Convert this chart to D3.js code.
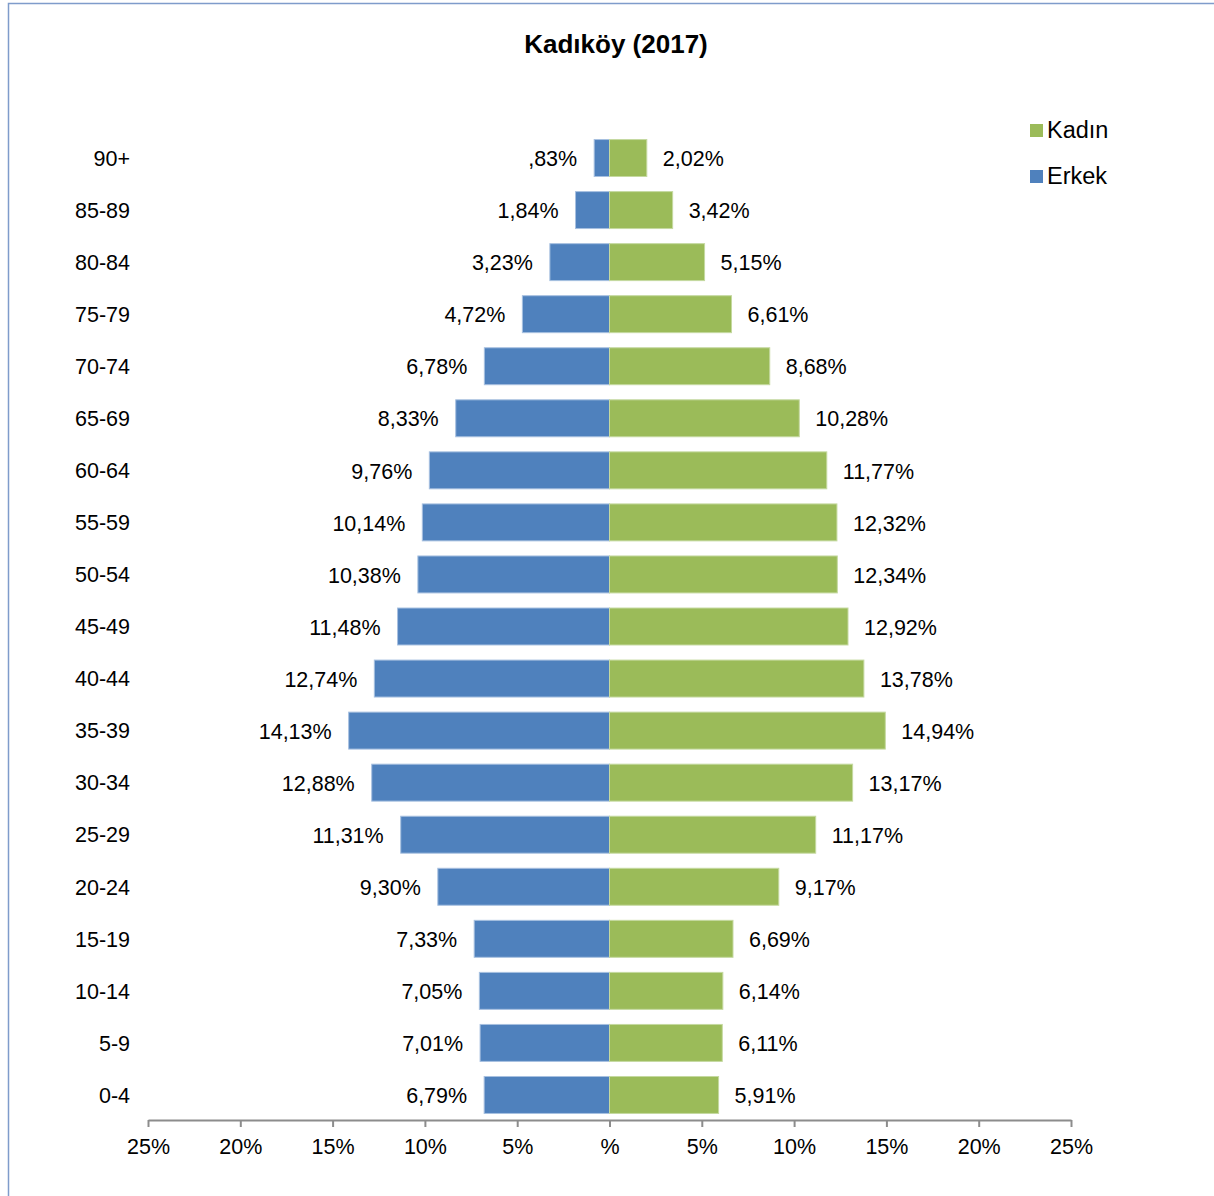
<!DOCTYPE html>
<html lang="tr">
<head>
    <meta charset="UTF-8">
    <title>Kadıköy (2017)</title>
    <style>
        body {
            margin: 0;
            background: #fff;
        }

        text {
            font-family: "Liberation Sans", Arial, sans-serif;
            fill: #000;
        }

        .axis path, .axis line {
            stroke: #8c8c8c;
            stroke-width: 2px;
        }
    </style>
</head>
<body>
<svg width="1214" height="1196"></svg>
<script src="https://cdn.jsdelivr.net/npm/d3@7"></script>
<script>
    // age groups, top to bottom
    let ages = ["90+", "85-89", "80-84", "75-79", "70-74", "65-69", "60-64", "55-59", "50-54",
        "45-49", "40-44", "35-39", "30-34", "25-29", "20-24", "15-19", "10-14", "5-9", "0-4"];
    let erkek = [0.83, 1.84, 3.23, 4.72, 6.78, 8.33, 9.76, 10.14, 10.38,
        11.48, 12.74, 14.13, 12.88, 11.31, 9.30, 7.33, 7.05, 7.01, 6.79];
    let kadin = [2.02, 3.42, 5.15, 6.61, 8.68, 10.28, 11.77, 12.32, 12.34,
        12.92, 13.78, 14.94, 13.17, 11.17, 9.17, 6.69, 6.14, 6.11, 5.91];
    let xTicks = [-25, -20, -15, -10, -5, 0, 5, 10, 15, 20, 25];
    let legendItems = [["Kadın", "#9bbb59"], ["Erkek", "#4f81bd"]];

    let svg = d3.select("svg");

    // chart border
    svg.append("rect")
        .attr("x", 8.5).attr("y", 3.5)
        .attr("width", 1214).attr("height", 1200)
        .attr("fill", "none")
        .attr("stroke", "#7f9ccb")
        .attr("stroke-width", 1.5);

    svg.append("text")
        .attr("x", 616).attr("y", 53)
        .attr("text-anchor", "middle")
        .style("font-size", "26px")
        .style("font-weight", "bold")
        .text("Kadıköy (2017)");

    let x = d3.scaleLinear().domain([-25, 25]).range([148, 1071]);
    let y = d3.scaleBand().domain(ages).range([132, 1121]).paddingInner(0.29).paddingOuter(0.145);

    let tr = d3.formatLocale({decimal: ",", thousands: ".", grouping: [3], currency: ["", "₺"]});
    let fmt = function (v) {
        let s = tr.format(".2f")(v);
        if (s.startsWith("0,")) s = s.substring(1);
        return s + "%";
    };

    let rows = ages.map(function (a, i) {
        return {age: a, m: erkek[i], f: kadin[i]};
    });

    // bars
    svg.selectAll(".bar-m")
        .data(rows)
        .enter().append("rect")
        .attr("class", "bar-m")
        .attr("x", d => x(-d.m))
        .attr("y", d => y(d.age))
        .attr("width", d => x(0) - x(-d.m))
        .attr("height", y.bandwidth())
        .attr("fill", "#4f81bd")
        .attr("stroke", "#a7c0e0")
        .attr("stroke-width", 1);

    svg.selectAll(".bar-f")
        .data(rows)
        .enter().append("rect")
        .attr("class", "bar-f")
        .attr("x", x(0))
        .attr("y", d => y(d.age))
        .attr("width", d => x(d.f) - x(0))
        .attr("height", y.bandwidth())
        .attr("fill", "#9bbb59")
        .attr("stroke", "#c5d9a0")
        .attr("stroke-width", 1);

    // value labels
    svg.selectAll(".lab-m")
        .data(rows)
        .enter().append("text")
        .attr("x", d => x(-d.m) - 17)
        .attr("y", d => y(d.age) + y.bandwidth() / 2)
        .attr("dy", "0.38em")
        .attr("text-anchor", "end")
        .style("font-size", "21.5px")
        .text(d => fmt(d.m));

    svg.selectAll(".lab-f")
        .data(rows)
        .enter().append("text")
        .attr("x", d => x(d.f) + 16)
        .attr("y", d => y(d.age) + y.bandwidth() / 2)
        .attr("dy", "0.38em")
        .attr("text-anchor", "start")
        .style("font-size", "21.5px")
        .text(d => fmt(d.f));

    // age labels
    svg.selectAll(".age")
        .data(ages)
        .enter().append("text")
        .attr("x", 130)
        .attr("y", d => y(d) + y.bandwidth() / 2)
        .attr("dy", "0.36em")
        .attr("text-anchor", "end")
        .style("font-size", "21.5px")
        .text(d => d);

    // x axis
    let xAxis = svg.append("g")
        .attr("class", "axis")
        .attr("transform", "translate(0,1120)")
        .call(d3.axisBottom(x)
            .tickValues(xTicks)
            .tickSizeInner(7)
            .tickSizeOuter(0)
            .tickPadding(12)
            .tickFormat(v => v === 0 ? "%" : Math.abs(v) + "%"));
    xAxis.selectAll("text")
        .style("font-size", "21.5px")
        .style("font-family", "\"Liberation Sans\", Arial, sans-serif")
        .attr("fill", "#000");

    // legend
    let legend = svg.selectAll(".legend")
        .data(legendItems)
        .enter().append("g")
        .attr("transform", (d, i) => "translate(1030," + (124 + i * 46) + ")");
    legend.append("rect")
        .attr("width", 13).attr("height", 13)
        .attr("fill", d => d[1]);
    legend.append("text")
        .attr("x", 17).attr("y", 6)
        .attr("dy", "0.36em")
        .style("font-size", "23.5px")
        .text(d => d[0]);
</script>
</body>
</html>
